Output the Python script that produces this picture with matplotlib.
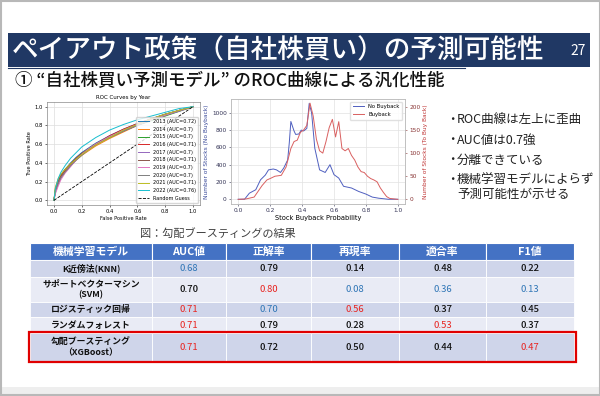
import matplotlib
matplotlib.use("Agg")
import matplotlib.pyplot as plt
from matplotlib.patches import Rectangle

plt.rcParams['font.family'] = ['Noto Sans CJK JP', 'DejaVu Sans']

# ---- テキスト ----
title = "ペイアウト政策（自社株買い）の予測可能性"
page_no = "27"
subtitle = "① “自社株買い予測モデル” のROC曲線による汎化性能"
bullets = ["ROC曲線は左上に歪曲", "AUC値は0.7強", "分離できている",
           "機械学習モデルによらず\n予測可能性が示せる"]
caption = "図：勾配ブースティングの結果"

# ---- ROC曲線 (年別) ----
roc_years = [2013, 2014, 2015, 2016, 2017, 2018, 2019, 2020, 2021, 2022]
roc_auc = ["0.72", "0.7", "0.7", "0.71", "0.7", "0.71", "0.7", "0.7", "0.71", "0.76"]
roc_fpr = [0, 0.01, 0.03, 0.05, 0.08, 0.12, 0.16, 0.2, 0.25, 0.3, 0.4, 0.5, 0.6, 0.7, 0.8, 0.9, 1.0]
tpr_2013 = [0, 0.11, 0.20, 0.27, 0.33, 0.40, 0.46, 0.51, 0.56, 0.61, 0.69, 0.76, 0.82, 0.87, 0.92, 0.96, 1.0]
tpr_2014 = [0, 0.13, 0.21, 0.26, 0.31, 0.37, 0.43, 0.48, 0.53, 0.58, 0.66, 0.73, 0.80, 0.86, 0.91, 0.96, 1.0]
tpr_2015 = [0, 0.09, 0.18, 0.25, 0.32, 0.39, 0.44, 0.49, 0.55, 0.60, 0.67, 0.74, 0.80, 0.85, 0.90, 0.95, 1.0]
tpr_2016 = [0, 0.10, 0.19, 0.26, 0.32, 0.39, 0.45, 0.50, 0.55, 0.60, 0.69, 0.76, 0.82, 0.87, 0.91, 0.96, 1.0]
tpr_2017 = [0, 0.08, 0.17, 0.24, 0.30, 0.37, 0.43, 0.49, 0.55, 0.60, 0.68, 0.74, 0.80, 0.86, 0.91, 0.95, 1.0]
tpr_2018 = [0, 0.11, 0.20, 0.27, 0.33, 0.39, 0.45, 0.50, 0.55, 0.60, 0.68, 0.75, 0.81, 0.87, 0.92, 0.96, 1.0]
tpr_2019 = [0, 0.07, 0.15, 0.22, 0.29, 0.36, 0.43, 0.49, 0.55, 0.60, 0.68, 0.75, 0.81, 0.86, 0.91, 0.96, 1.0]
tpr_2020 = [0, 0.10, 0.18, 0.24, 0.30, 0.37, 0.43, 0.48, 0.54, 0.59, 0.67, 0.74, 0.81, 0.87, 0.92, 0.96, 1.0]
tpr_2021 = [0, 0.14, 0.23, 0.28, 0.33, 0.39, 0.44, 0.49, 0.54, 0.59, 0.67, 0.75, 0.81, 0.87, 0.92, 0.96, 1.0]
tpr_2022 = [0, 0.12, 0.23, 0.30, 0.37, 0.45, 0.51, 0.57, 0.62, 0.67, 0.75, 0.81, 0.86, 0.90, 0.94, 0.98, 1.0]
roc_tprs = [tpr_2013, tpr_2014, tpr_2015, tpr_2016, tpr_2017,
            tpr_2018, tpr_2019, tpr_2020, tpr_2021, tpr_2022]

# ---- 予測確率の分布 ----
nb_prob = [0.0, 0.04, 0.07, 0.08, 0.11, 0.14, 0.17, 0.19, 0.22, 0.24, 0.265, 0.285, 0.31, 0.32,
           0.33, 0.35, 0.36, 0.38, 0.395, 0.41, 0.43, 0.445, 0.46, 0.48, 0.51, 0.545, 0.575,
           0.6, 0.63, 0.66, 0.71, 0.755, 0.8, 0.84, 0.88, 0.94, 1.0]
nb_count = [0, 0, 70, 80, 110, 225, 280, 340, 350, 340, 310, 360, 455, 650,
            900, 790, 750, 755, 800, 790, 820, 1110, 1000, 590, 340, 310, 400,
            285, 245, 150, 130, 90, 60, 25, 12, 0, 0]
bb_prob = [0.0, 0.05, 0.1, 0.12, 0.15, 0.18, 0.2, 0.23, 0.27, 0.3, 0.33, 0.35, 0.37, 0.39,
           0.41, 0.43, 0.45, 0.47, 0.49, 0.51, 0.53, 0.55, 0.57, 0.59, 0.61, 0.63, 0.65,
           0.67, 0.69, 0.71, 0.73, 0.75, 0.77, 0.79, 0.81, 0.83, 0.85, 0.87, 0.89, 0.91,
           0.93, 0.95, 1.0]
bb_count = [0, 1, 5, 15, 30, 42, 45, 50, 52, 70, 110, 125, 128, 145,
            150, 160, 208, 180, 130, 105, 100, 125, 155, 173, 135, 168, 110,
            105, 110, 95, 85, 70, 60, 58, 50, 45, 42, 38, 25, 15,
            6, 2, 0]

# ---- 表 ----
table_columns = ["機械学習モデル", "AUC値", "正解率", "再現率", "適合率", "F1値"]
model_names = ["K近傍法(KNN)", "サポートベクターマシン\n(SVM)", "ロジスティック回帰",
               "ランダムフォレスト", "勾配ブースティング\n（XGBoost）"]
auc_vals = ["0.68", "0.70", "0.71", "0.71", "0.71"]
acc_vals = ["0.79", "0.80", "0.70", "0.79", "0.72"]
rec_vals = ["0.14", "0.08", "0.56", "0.28", "0.50"]
prec_vals = ["0.48", "0.36", "0.37", "0.53", "0.44"]
f1_vals = ["0.22", "0.13", "0.45", "0.37", "0.47"]
# hi = 最良 (赤), lo = 最低 (青)
auc_rank = ["lo", "", "hi", "hi", "hi"]
acc_rank = ["", "hi", "lo", "", ""]
rec_rank = ["", "lo", "hi", "", ""]
prec_rank = ["", "lo", "", "hi", ""]
f1_rank = ["", "lo", "", "", "hi"]

W, H = 600, 396
fig = plt.figure(figsize=(W / 100, H / 100), dpi=100, facecolor='white')

# 背景 (スライド) はピクセル座標で描く
bg = fig.add_axes([0, 0, 1, 1])
bg.set_xlim(0, W)
bg.set_ylim(H, 0)
bg.axis('off')

bg.add_patch(Rectangle((0, 387), W, 9, facecolor='#eeeeee', edgecolor='none'))
bg.add_patch(Rectangle((0.5, 0.5), W - 1, H - 1.5, facecolor='none', edgecolor='#b8b8b8', lw=1.5))

# タイトルバー
bg.add_patch(Rectangle((8, 33), 582, 34, facecolor='#203864', edgecolor='none'))
bg.plot([8, 465], [68, 68], color='#203864', lw=0.8)
bg.text(12, 50.5, title, color='white', fontsize=19.2, va='center', ha='left',
        fontweight='medium')
bg.text(578, 51, page_no, color='white', fontsize=10, va='center', ha='center')

bg.text(15, 81, subtitle, color='#111111', fontsize=12.6, va='center', ha='left',
        fontweight='medium')

# 箇条書き
bullet_y = [119, 140, 160, 179]
for yy, txt in zip(bullet_y, bullets):
    bg.text(446, yy, "・", fontsize=9, va='center', ha='left', color='#222222')
    bg.text(457, yy - 6, txt, fontsize=9, va='top', ha='left', color='#222222',
            linespacing=1.2)

bg.text(218, 233, caption, fontsize=8, va='center', ha='center', color='#404040')

# ---- 表 ----
col_x = [30, 152, 226, 311, 399, 486, 574]
row_y = [243, 260, 277, 302, 317, 333, 361]
row_bg = ['#cfd5ea', '#e9ebf5', '#cfd5ea', '#e9ebf5', '#cfd5ea']
rank_color = {"hi": '#e8231f', "lo": '#2e75b6', "": '#111111'}

for j, name in enumerate(table_columns):
    bg.add_patch(Rectangle((col_x[j], row_y[0]), col_x[j + 1] - col_x[j], row_y[1] - row_y[0],
                           facecolor='#4472c4', edgecolor='white', lw=0.8))
    bg.text((col_x[j] + col_x[j + 1]) / 2, (row_y[0] + row_y[1]) / 2 + 0.5, name,
            color='white', fontsize=7.8, fontweight='bold', ha='center', va='center')

columns = [auc_vals, acc_vals, rec_vals, prec_vals, f1_vals]
ranks = [auc_rank, acc_rank, rec_rank, prec_rank, f1_rank]
for i, name in enumerate(model_names):
    y0, y1 = row_y[i + 1], row_y[i + 2]
    yc = (y0 + y1) / 2
    for j in range(6):
        bg.add_patch(Rectangle((col_x[j], y0), col_x[j + 1] - col_x[j], y1 - y0,
                               facecolor=row_bg[i], edgecolor='white', lw=0.6))
    bg.text((col_x[0] + col_x[1]) / 2, yc, name, fontsize=6.4, fontweight='bold',
            ha='center', va='center', color='#111111', linespacing=1.25)
    for j in range(5):
        c = rank_color[ranks[j][i]]
        bg.text((col_x[j + 1] + col_x[j + 2]) / 2, yc, columns[j][i], fontsize=6.8,
                ha='center', va='center', color=c,
                fontweight='medium' if ranks[j][i] == "" else 'normal')

# XGBoostを赤枠で強調
bg.add_patch(Rectangle((29, 332), 547, 30, facecolor='none', edgecolor='#e00000', lw=1.6))


def px_axes(l, t, r, b):
    return fig.add_axes([l / W, 1 - b / H, (r - l) / W, (b - t) / H])


# ---- ROC曲線 ----
ax1 = px_axes(47, 102, 200, 205)
for yr, auc, tpr in zip(roc_years, roc_auc, roc_tprs):
    ax1.plot(roc_fpr, tpr, lw=0.7, label=f"{yr} (AUC={auc})")
ax1.plot([0, 1], [0, 1], 'k--', lw=0.6, label="Random Guess")
ax1.set_xlim(-0.05, 1.05)
ax1.set_ylim(-0.05, 1.05)
ax1.set_xticks([0, 0.2, 0.4, 0.6, 0.8, 1.0])
ax1.set_yticks([0, 0.2, 0.4, 0.6, 0.8, 1.0])
ax1.grid(True, color='#dddddd', lw=0.5)
ax1.tick_params(labelsize=3.8, length=1.5, width=0.4, pad=1.5, labelfontfamily='DejaVu Sans')
ax1.set_title("ROC Curves by Year", fontsize=4, pad=2, family='DejaVu Sans')
ax1.set_xlabel("False Positive Rate", fontsize=3.6, labelpad=1.5, family='DejaVu Sans')
ax1.set_ylabel("True Positive Rate", fontsize=3.6, labelpad=2, family='DejaVu Sans')
for s in ax1.spines.values():
    s.set_color('#888888')
    s.set_linewidth(0.5)
ax1.legend(loc='lower right', prop={'family': 'DejaVu Sans', 'size': 3.5},
           handlelength=2.2, labelspacing=0.55, borderpad=0.4, framealpha=0.8,
           edgecolor='#cccccc')

# ---- 予測確率の分布 ----
ax2 = px_axes(231, 99, 405, 204)
ax2.plot(nb_prob, nb_count, color='#4f5fbf', lw=0.7, label="No Buyback")
ax2.set_xlim(-0.045, 1.045)
ax2.set_ylim(-55, 1160)
ax2.set_yticks([0, 200, 400, 600, 800, 1000])
ax2.set_xticks([0, 0.2, 0.4, 0.6, 0.8, 1.0])
ax2.grid(True, color='#e2e2e2', lw=0.5)
ax2.tick_params(labelsize=4.2, length=1.5, width=0.4, pad=1.5, labelfontfamily='DejaVu Sans',
                colors='#333355')
ax2.set_xlabel("Stock Buyback Probability", fontsize=4.8, labelpad=1.5, family='DejaVu Sans')
ax2.set_ylabel("Number of Stocks (No Buyback)", fontsize=4.2, labelpad=2,
               family='DejaVu Sans', color='#3a4a9a')

ax3 = ax2.twinx()
ax3.plot(bb_prob, bb_count, color='#d96060', lw=0.7, label="Buyback")
ax3.set_ylim(-10, 217)
ax3.set_yticks([0, 50, 100, 150, 200])
ax3.tick_params(labelsize=4.2, length=1.5, width=0.4, pad=1.5, labelfontfamily='DejaVu Sans',
                colors='#883333')
ax3.set_ylabel("Number of Stocks (To Buy Back)", fontsize=4.2, labelpad=2,
               family='DejaVu Sans', color='#c03535')
for a in (ax2, ax3):
    for s in a.spines.values():
        s.set_color('#bbbbbb')
        s.set_linewidth(0.5)

h1, l1 = ax2.get_legend_handles_labels()
h2, l2 = ax3.get_legend_handles_labels()
ax3.legend(h1 + h2, l1 + l2, loc='upper right', prop={'family': 'DejaVu Sans', 'size': 3.8},
           handlelength=2.2, borderpad=0.5, framealpha=0.9, edgecolor='#dddddd')

fig.savefig("out.png", dpi=100, facecolor='white')
